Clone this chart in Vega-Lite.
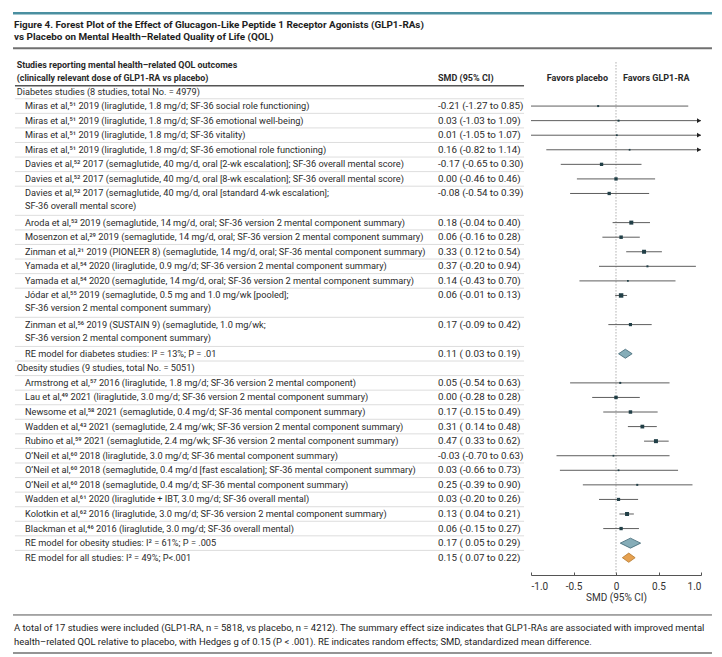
{
  "$schema": "https://vega.github.io/schema/vega-lite/v6.json",
  "width": 722,
  "height": 575,
  "autosize": {"type": "none"},
  "padding": {"left": 0, "top": 0, "right": 0, "bottom": 82},
  "background": "white",
  "config": {
    "view": {"stroke": null},
    "text": {"font": "Roboto, sans-serif", "fontSize": 9.2, "color": "#2b2b2b", "baseline": "middle", "align": "left"},
    "axis": {"labelFont": "Roboto, sans-serif", "titleFont": "Roboto, sans-serif"}
  },
  "datasets": {
    "rows": [
      {"row": 0, "kind": "header", "lines": 1, "label": "Diabetes studies (8 studies, total No. = 4979)"},
      {"row": 1, "kind": "study", "lines": 1, "label": "Miras et al,⁵¹ 2019 (liraglutide, 1.8 mg/d; SF-36 social role functioning)", "ci": "-0.21 (-1.27 to 0.85)", "smd": -0.21, "lo": -1.27, "hi": 0.85, "weight": 4},
      {"row": 2, "kind": "study", "lines": 1, "label": "Miras et al,⁵¹ 2019 (liraglutide, 1.8 mg/d; SF-36 emotional well-being)", "ci": "0.03 (-1.03 to 1.09)", "smd": 0.03, "lo": -1.03, "hi": 1.09, "weight": 4},
      {"row": 3, "kind": "study", "lines": 1, "label": "Miras et al,⁵¹ 2019 (liraglutide, 1.8 mg/d; SF-36 vitality)", "ci": "0.01 (-1.05 to 1.07)", "smd": 0.01, "lo": -1.05, "hi": 1.07, "weight": 3},
      {"row": 4, "kind": "study", "lines": 1, "label": "Miras et al,⁵¹ 2019 (liraglutide, 1.8 mg/d; SF-36 emotional role functioning)", "ci": "0.16 (-0.82 to 1.14)", "smd": 0.16, "lo": -0.82, "hi": 1.14, "weight": 3},
      {"row": 5, "kind": "study", "lines": 1, "label": "Davies et al,⁵² 2017 (semaglutide, 40 mg/d, oral [2-wk escalation]; SF-36 overall mental score)", "ci": "-0.17 (-0.65 to 0.30)", "smd": -0.17, "lo": -0.65, "hi": 0.30, "weight": 11},
      {"row": 6, "kind": "study", "lines": 1, "label": "Davies et al,⁵² 2017 (semaglutide, 40 mg/d, oral [8-wk escalation]; SF-36 overall mental score)", "ci": "0.00 (-0.46 to 0.46)", "smd": 0.00, "lo": -0.46, "hi": 0.46, "weight": 11},
      {"row": 7, "kind": "study", "lines": 2, "label": "Davies et al,⁵² 2017 (semaglutide, 40 mg/d, oral [standard 4-wk escalation];\nSF-36 overall mental score)", "ci": "-0.08 (-0.54 to 0.39)", "smd": -0.08, "lo": -0.54, "hi": 0.39, "weight": 11},
      {"row": 9, "kind": "study", "lines": 1, "label": "Aroda et al,⁵³ 2019 (semaglutide, 14 mg/d, oral; SF-36 version 2 mental component summary)", "ci": "0.18 (-0.04 to 0.40)", "smd": 0.18, "lo": -0.04, "hi": 0.40, "weight": 16},
      {"row": 10, "kind": "study", "lines": 1, "label": "Mosenzon et al,²⁹ 2019 (semaglutide, 14 mg/d, oral; SF-36 version 2 mental component summary)", "ci": "0.06 (-0.16 to 0.28)", "smd": 0.06, "lo": -0.16, "hi": 0.28, "weight": 12},
      {"row": 11, "kind": "study", "lines": 1, "label": "Zinman et al,³¹ 2019 (PIONEER 8) (semaglutide, 14 mg/d, oral; SF-36 mental component summary)", "ci": "0.33 ( 0.12 to 0.54)", "smd": 0.33, "lo": 0.12, "hi": 0.54, "weight": 16},
      {"row": 12, "kind": "study", "lines": 1, "label": "Yamada et al,⁵⁴ 2020 (liraglutide, 0.9 mg/d; SF-36 version 2 mental component summary)", "ci": "0.37 (-0.20 to 0.94)", "smd": 0.37, "lo": -0.20, "hi": 0.94, "weight": 4},
      {"row": 13, "kind": "study", "lines": 1, "label": "Yamada et al,⁵⁴ 2020 (semaglutide, 14 mg/d, oral; SF-36 version 2 mental component summary)", "ci": "0.14 (-0.43 to 0.70)", "smd": 0.14, "lo": -0.43, "hi": 0.70, "weight": 3},
      {"row": 14, "kind": "study", "lines": 2, "label": "Jódar et al,⁵⁵ 2019 (semaglutide, 0.5 mg and 1.0 mg/wk [pooled];\nSF-36 version 2 mental component summary)", "ci": "0.06 (-0.01 to 0.13)", "smd": 0.06, "lo": -0.01, "hi": 0.13, "weight": 20},
      {"row": 16, "kind": "study", "lines": 2, "label": "Zinman et al,⁵⁶ 2019 (SUSTAIN 9) (semaglutide, 1.0 mg/wk;\nSF-36 version 2 mental component summary)", "ci": "0.17 (-0.09 to 0.42)", "smd": 0.17, "lo": -0.09, "hi": 0.42, "weight": 10},
      {"row": 18, "kind": "summary", "group": "diab", "lines": 1, "label": "RE model for diabetes studies: I² = 13%; P = .01", "ci": "0.11 ( 0.03 to 0.19)", "smd": 0.11, "lo": 0.03, "hi": 0.19},
      {"row": 19, "kind": "header", "lines": 1, "label": "Obesity studies (9 studies, total No. = 5051)"},
      {"row": 20, "kind": "study", "lines": 1, "label": "Armstrong et al,⁵⁷ 2016 (liraglutide, 1.8 mg/d; SF-36 version 2 mental component)", "ci": "0.05 (-0.54 to 0.63)", "smd": 0.05, "lo": -0.54, "hi": 0.63, "weight": 4},
      {"row": 21, "kind": "study", "lines": 1, "label": "Lau et al,⁴⁹ 2021 (liraglutide, 3.0 mg/d; SF-36 version 2 mental component summary)", "ci": "0.00 (-0.28 to 0.28)", "smd": 0.00, "lo": -0.28, "hi": 0.28, "weight": 12},
      {"row": 22, "kind": "study", "lines": 1, "label": "Newsome et al,⁵⁸ 2021 (semaglutide, 0.4 mg/d; SF-36 mental component summary)", "ci": "0.17 (-0.15 to 0.49)", "smd": 0.17, "lo": -0.15, "hi": 0.49, "weight": 12},
      {"row": 23, "kind": "study", "lines": 1, "label": "Wadden et al,⁴³ 2021 (semaglutide, 2.4 mg/wk; SF-36 version 2 mental component summary)", "ci": "0.31 ( 0.14 to 0.48)", "smd": 0.31, "lo": 0.14, "hi": 0.48, "weight": 14},
      {"row": 24, "kind": "study", "lines": 1, "label": "Rubino et al,⁵⁹ 2021 (semaglutide, 2.4 mg/wk; SF-36 version 2 mental component summary)", "ci": "0.47 ( 0.33 to 0.62)", "smd": 0.47, "lo": 0.33, "hi": 0.62, "weight": 16},
      {"row": 25, "kind": "study", "lines": 1, "label": "O’Neil et al,⁶⁰ 2018 (liraglutide, 3.0 mg/d; SF-36 mental component summary)", "ci": "-0.03 (-0.70 to 0.63)", "smd": -0.03, "lo": -0.70, "hi": 0.63, "weight": 3},
      {"row": 26, "kind": "study", "lines": 1, "label": "O’Neil et al,⁶⁰ 2018 (semaglutide, 0.4 mg/d [fast escalation]; SF-36 mental component summary)", "ci": "0.03 (-0.66 to 0.73)", "smd": 0.03, "lo": -0.66, "hi": 0.73, "weight": 3},
      {"row": 27, "kind": "study", "lines": 1, "label": "O’Neil et al,⁶⁰ 2018 (semaglutide, 0.4 mg/d; SF-36 mental component summary)", "ci": "0.25 (-0.39 to 0.90)", "smd": 0.25, "lo": -0.39, "hi": 0.90, "weight": 4},
      {"row": 28, "kind": "study", "lines": 1, "label": "Wadden et al,⁶¹ 2020 (liraglutide + IBT, 3.0 mg/d; SF-36 overall mental)", "ci": "0.03 (-0.20 to 0.26)", "smd": 0.03, "lo": -0.20, "hi": 0.26, "weight": 10},
      {"row": 29, "kind": "study", "lines": 1, "label": "Kolotkin et al,⁶² 2016 (liraglutide, 3.0 mg/d; SF-36 version 2 mental component summary)", "ci": "0.13 ( 0.04 to 0.21)", "smd": 0.13, "lo": 0.04, "hi": 0.21, "weight": 16},
      {"row": 30, "kind": "study", "lines": 1, "label": "Blackman et al,⁴⁶ 2016 (liraglutide, 3.0 mg/d; SF-36 overall mental)", "ci": "0.06 (-0.15 to 0.27)", "smd": 0.06, "lo": -0.15, "hi": 0.27, "weight": 11},
      {"row": 31, "kind": "summary", "group": "obes", "lines": 1, "label": "RE model for obesity studies: I² = 61%; P = .005", "ci": "0.17 ( 0.05 to 0.29)", "smd": 0.17, "lo": 0.05, "hi": 0.29},
      {"row": 32, "kind": "summary", "group": "all", "lines": 1, "label": "RE model for all studies: I² = 49%; P<.001", "ci": "0.15 ( 0.07 to 0.22)", "smd": 0.15, "lo": 0.07, "hi": 0.22}
    ]
  },
  "resolve": {"scale": {"x": "independent"}},
  "layer": [
    {
      "layer": [
        {
          "data": {"values": [{}]},
          "mark": {"type": "rule", "color": "#4a8fa0", "strokeWidth": 2.5},
          "encoding": {
            "x": {"datum": -7.094, "type": "quantitative", "scale": {"domain": [-1, 1], "range": [531, 701], "nice": false, "zero": false}, "axis": null},
            "x2": {"datum": 1.129},
            "y": {"datum": -5.368, "type": "quantitative", "scale": {"domain": [0, 32], "range": [91.5, 557.7], "nice": false, "zero": false}, "axis": null}
          }
        },
        {
          "data": {"values": [{"t": "Figure 4. Forest Plot of the Effect of Glucagon-Like Peptide 1 Receptor Agonists (GLP1-RAs)\nvs Placebo on Mental Health–Related Quality of Life (QOL)"}]},
          "mark": {"type": "text", "fontSize": 9.9, "fontWeight": "bold", "color": "#1e1e1e", "lineBreak": "\n", "lineHeight": 11.7},
          "encoding": {
            "x": {"datum": -7.082, "type": "quantitative", "axis": null},
            "y": {"datum": -4.565, "type": "quantitative", "axis": null},
            "text": {"field": "t"}
          }
        },
        {
          "data": {"values": [{}]},
          "mark": {"type": "rule", "color": "#707070", "strokeWidth": 2},
          "encoding": {
            "x": {"datum": -7.094, "type": "quantitative", "axis": null},
            "x2": {"datum": 1.129},
            "y": {"datum": -2.965, "type": "quantitative", "axis": null}
          }
        },
        {
          "data": {"values": [{"t": "Studies reporting mental health–related QOL outcomes\n(clinically relevant dose of GLP1-RA vs placebo)"}]},
          "mark": {"type": "text", "fontSize": 8.9, "fontWeight": "bold", "color": "#2a2a2a", "lineBreak": "\n", "lineHeight": 12.7},
          "encoding": {
            "x": {"datum": -7.051, "type": "quantitative", "axis": null},
            "y": {"datum": -1.819, "type": "quantitative", "axis": null},
            "text": {"field": "t"}
          }
        },
        {
          "data": {"values": [{"t": "SMD (95% CI)"}]},
          "mark": {"type": "text", "fontSize": 9, "fontWeight": "bold", "color": "#2a2a2a"},
          "encoding": {
            "x": {"datum": -2.094, "type": "quantitative", "axis": null},
            "y": {"datum": -0.947, "type": "quantitative", "axis": null},
            "text": {"field": "t"}
          }
        },
        {
          "data": {"values": [{"t": "Favors placebo"}]},
          "mark": {"type": "text", "fontSize": 9, "fontWeight": "bold", "color": "#2a2a2a", "align": "right", "dx": -8},
          "encoding": {
            "x": {"datum": 0, "type": "quantitative", "axis": null},
            "y": {"datum": -0.947, "type": "quantitative", "axis": null},
            "text": {"field": "t"}
          }
        },
        {
          "data": {"values": [{"t": "Favors GLP1-RA"}]},
          "mark": {"type": "text", "fontSize": 9, "fontWeight": "bold", "color": "#2a2a2a", "align": "left", "dx": 7},
          "encoding": {
            "x": {"datum": 0, "type": "quantitative", "axis": null},
            "y": {"datum": -0.947, "type": "quantitative", "axis": null},
            "text": {"field": "t"}
          }
        },
        {
          "data": {"values": [{}]},
          "mark": {"type": "rule", "color": "#555555", "strokeWidth": 1.5},
          "encoding": {
            "x": {"datum": -7.071, "type": "quantitative", "axis": null},
            "x2": {"datum": -1.082},
            "y": {"datum": -0.398, "type": "quantitative", "axis": null}
          }
        },
        {
          "data": {"name": "rows"},
          "transform": [{"filter": "datum.lines == 1 && datum.row < 32"}],
          "mark": {"type": "rule", "color": "#d4d4d4", "strokeWidth": 0.8, "yOffset": 7.28},
          "encoding": {
            "x": {"datum": -7.071, "type": "quantitative", "axis": null},
            "x2": {"datum": -1.082},
            "y": {"field": "row", "type": "quantitative", "axis": null}
          }
        },
        {
          "data": {"name": "rows"},
          "transform": [{"filter": "datum.lines == 2"}],
          "mark": {"type": "rule", "color": "#d4d4d4", "strokeWidth": 0.8, "yOffset": 21.85},
          "encoding": {
            "x": {"datum": -7.071, "type": "quantitative", "axis": null},
            "x2": {"datum": -1.082},
            "y": {"field": "row", "type": "quantitative", "axis": null}
          }
        },
        {
          "data": {"name": "rows"},
          "transform": [{"filter": "datum.kind == 'header'"}],
          "mark": {"type": "text", "lineBreak": "\n", "lineHeight": 13},
          "encoding": {
            "x": {"datum": -7.051, "type": "quantitative", "axis": null},
            "y": {"field": "row", "type": "quantitative", "axis": null},
            "text": {"field": "label"}
          }
        },
        {
          "data": {"name": "rows"},
          "transform": [{"filter": "datum.kind != 'header'"}],
          "mark": {"type": "text", "lineBreak": "\n", "lineHeight": 13},
          "encoding": {
            "x": {"datum": -6.953, "type": "quantitative", "axis": null},
            "y": {"field": "row", "type": "quantitative", "axis": null},
            "text": {"field": "label"}
          }
        },
        {
          "data": {"name": "rows"},
          "transform": [{"filter": "datum.kind != 'header'"}],
          "mark": {"type": "text", "fontSize": 9.8},
          "encoding": {
            "x": {"datum": -2.094, "type": "quantitative", "axis": null},
            "y": {"field": "row", "type": "quantitative", "axis": null},
            "text": {"field": "ci"}
          }
        },
        {
          "data": {"values": [{}]},
          "mark": {"type": "rule", "color": "#555555", "strokeWidth": 1},
          "encoding": {
            "x": {"datum": -7.094, "type": "quantitative", "axis": null},
            "x2": {"datum": 1.129},
            "y": {"datum": 35.93, "type": "quantitative", "axis": null}
          }
        },
        {
          "data": {"values": [{"t": "A total of 17 studies were included (GLP1-RA, n = 5818, vs placebo, n = 4212). The summary effect size indicates that GLP1-RAs are associated with improved mental\nhealth–related QOL relative to placebo, with Hedges g of 0.15 (P < .001). RE indicates random effects; SMD, standardized mean difference."}]},
          "mark": {"type": "text", "fontSize": 9.45, "color": "#222222", "lineBreak": "\n", "lineHeight": 13.4},
          "encoding": {
            "x": {"datum": -7.082, "type": "quantitative", "axis": null},
            "y": {"datum": 36.85, "type": "quantitative", "axis": null},
            "text": {"field": "t"}
          }
        },
        {
          "data": {"values": [{}]},
          "mark": {"type": "rule", "color": "#707070", "strokeWidth": 1.5},
          "encoding": {
            "x": {"datum": -7.094, "type": "quantitative", "axis": null},
            "x2": {"datum": 1.129},
            "y": {"datum": 38.54, "type": "quantitative", "axis": null}
          }
        }
      ]
    },
    {
      "layer": [
        {
          "data": {"values": [{}]},
          "mark": {"type": "rule", "color": "#9a9a9a", "strokeWidth": 0.8, "strokeDash": [1.5, 1.5]},
          "encoding": {
            "x": {
              "datum": 0, "type": "quantitative",
              "scale": {"domain": [-1, 1], "range": [531, 701], "clamp": true, "nice": false, "zero": false},
              "axis": {
                "values": [-1, -0.5, 0, 0.5, 1],
                "labelExpr": "datum.value == 0 ? '0' : replace(format(datum.value, '.1f'), '−', '-')",
                "title": "SMD (95% CI)",
                "titleFontWeight": "normal",
                "titleFontSize": 10,
                "titleColor": "#333333",
                "titlePadding": 1,
                "labelFontSize": 10,
                "labelColor": "#333333",
                "labelPadding": 9.5,
                "tickSize": -3,
                "tickColor": "#555555",
                "domainColor": "#555555",
                "grid": false
              }
            },
            "y": {"datum": -2.02, "type": "quantitative"},
            "y2": {"datum": 33.19}
          }
        },
        {
          "data": {"name": "rows"},
          "transform": [{"filter": "datum.kind == 'study'"}],
          "mark": {"type": "rule", "color": "#5e5e5e", "strokeWidth": 1},
          "encoding": {
            "x": {"field": "lo", "type": "quantitative"},
            "x2": {"field": "hi"},
            "y": {"field": "row", "type": "quantitative"}
          }
        },
        {
          "data": {"name": "rows"},
          "transform": [{"filter": "datum.kind == 'study' && datum.hi > 1"}],
          "mark": {"type": "point", "shape": "triangle-right", "filled": true, "size": 22, "color": "#222222", "opacity": 1, "xOffset": -2},
          "encoding": {
            "x": {"field": "hi", "type": "quantitative"},
            "y": {"field": "row", "type": "quantitative"}
          }
        },
        {
          "data": {"name": "rows"},
          "transform": [{"filter": "datum.kind == 'study'"}],
          "mark": {"type": "point", "shape": "square", "filled": true, "color": "#213f47", "opacity": 1},
          "encoding": {
            "x": {"field": "smd", "type": "quantitative"},
            "y": {"field": "row", "type": "quantitative"},
            "size": {"field": "weight", "type": "quantitative", "scale": {"domain": [0, 20], "range": [0, 20], "zero": true}, "legend": null}
          }
        },
        {
          "data": {"name": "rows"},
          "transform": [{"filter": "datum.kind == 'summary'"}],
          "mark": {"type": "point", "filled": true, "size": 400, "opacity": 1, "strokeWidth": 0.8},
          "encoding": {
            "x": {"field": "smd", "type": "quantitative"},
            "y": {"field": "row", "type": "quantitative"},
            "shape": {"field": "group", "type": "nominal", "scale": {"domain": ["diab", "obes", "all"], "range": ["M-0.68,0L0,-0.45L0.68,0L0,0.45Z", "M-1.02,0L0,-0.5L1.02,0L0,0.5Z", "M-0.64,0L0,-0.46L0.64,0L0,0.46Z"]}, "legend": null},
            "fill": {"field": "group", "type": "nominal", "scale": {"domain": ["diab", "obes", "all"], "range": ["#86adb8", "#86adb8", "#e6a150"]}, "legend": null},
            "stroke": {"field": "group", "type": "nominal", "scale": {"domain": ["diab", "obes", "all"], "range": ["#3f6673", "#3f6673", "#b4782f"]}, "legend": null}
          }
        }
      ]
    }
  ]
}
